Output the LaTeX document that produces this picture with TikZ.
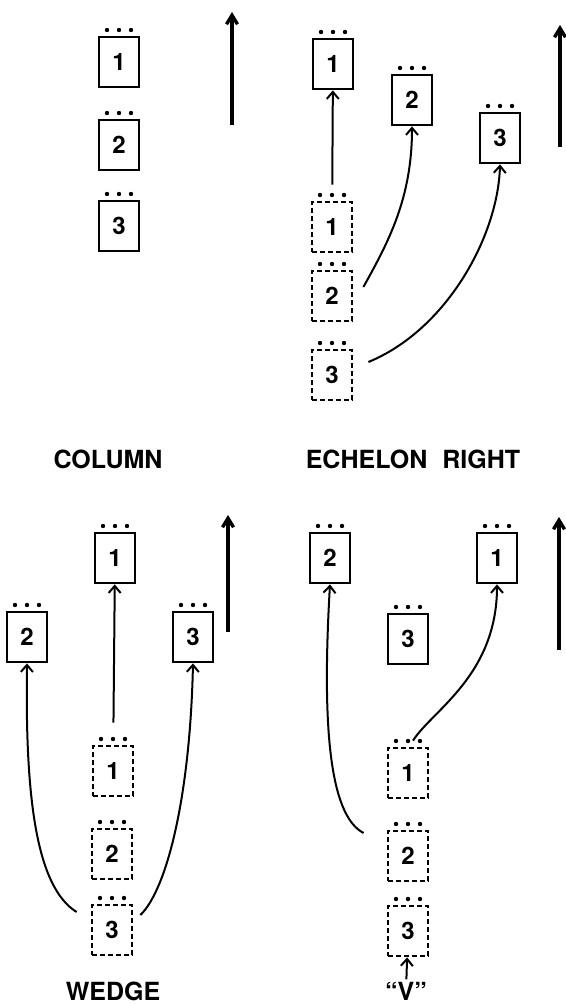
\documentclass[tikz,border=0pt]{standalone}
\usepackage{fontspec}
\setmainfont{TeX Gyre Heros}
\usetikzlibrary{arrows.meta}
\begin{document}
\begin{tikzpicture}[x=0.5pt, y=-0.5pt,
  unit/.style={draw, line width=1.4pt, minimum width=20pt, minimum height=25pt, inner sep=0pt, font=\fontsize{12}{14}\selectfont\bfseries},
  ghost/.style={unit, dash pattern={on 2.4pt off 1.6pt}},
  conn/.style={line width=1pt, -{Straight Barb[length=3.5pt, width=6pt]}},
  heading/.style={line width=1.7pt, -{Straight Barb[length=4.5pt, width=5.5pt]}},
  caption/.style={anchor=base, inner sep=1pt, font=\fontsize{12.5}{14}\selectfont\bfseries}]
  \useasboundingbox (0,0) rectangle (566,1005);

  % column
  \node[unit] (c1) at (119,62) {1};
  \node[unit] (c2) at (119,145) {2};
  \node[unit] (c3) at (119,226) {3};
  \coordinate (colA) at (232,125);
  \coordinate (colB) at (232,12);
  \draw[heading] (colA) -- (colB);
  \node[caption] (col) at (108,468) {COLUMN};

  % echelon right
  \node[unit] (e1) at (333,64) {1};
  \node[unit] (e2) at (412,100) {2};
  \node[unit] (e3) at (500,138) {3};
  \node[ghost] (f1) at (332,227) {1};
  \node[ghost] (f2) at (332,296) {2};
  \node[ghost] (f3) at (332,375) {3};
  \coordinate (echA) at (560,147);
  \coordinate (echB) at (560,25);
  \draw[heading] (echA) -- (echB);
  \draw[conn, shorten <=8pt] (f1) -- (e1);
  \draw[conn] ([shift={(10,-9)}]f2.east) .. controls +(25,-45) and +(0,72) .. (e2.south);
  \draw[conn] ([shift={(15,-13)}]f3.east) .. controls +(78,-32) and +(-2,72) .. (e3.south);
  \node[caption] (ech) at (413,468) {ECHELON\hspace{0.6em}RIGHT};

  % wedge
  \node[unit] (w1) at (115,558) {1};
  \node[unit] (w2) at (27,637) {2};
  \node[unit] (w3) at (193,637) {3};
  \node[ghost] (g1) at (113,771) {1};
  \node[ghost] (g2) at (112,854) {2};
  \node[ghost] (g3) at (112,930) {3};
  \coordinate (wedA) at (228,632);
  \coordinate (wedB) at (228,515);
  \draw[heading] (wedA) -- (wedB);
  \draw[conn, shorten <=11pt] (g1) -- (w1);
  \draw[conn] ([shift={(-14,-18)}]g3.west) .. controls +(-40,-25) and +(-2,136) .. (w2.south);
  \draw[conn] ([shift={(7,-15)}]g3.east) .. controls +(26,-25) and +(-3,135) .. (w3.south);
  \node[caption] (wed) at (113,1000) {WEDGE};

  % "V"
  \node[unit] (v2) at (330,558) {2};
  \node[unit] (v1) at (497,558) {1};
  \node[unit] (v3) at (408,639) {3};
  \node[ghost] (h1) at (408,773) {1};
  \node[ghost] (h2) at (408,856) {2};
  \node[ghost] (h3) at (408,931) {3};
  \coordinate (veeA) at (559,650);
  \coordinate (veeB) at (559,517);
  \draw[heading] (veeA) -- (veeB);
  \draw[conn] ([shift={(-23,-23)}]h2.west) .. controls +(-35,-18) and +(-8,137) .. (v2.south);
  \draw[conn] ([shift={(5,-6)}]h1.north) .. controls +(19,-30) and +(0,91) .. (v1.south);
  \node[caption] (vee) at (406,1000) {``V''};
  \draw[conn] (vee) -- (h3);

  % dots over every box
  \foreach \n in {c1,c2,c3,e1,e2,e3,f1,f2,f3,w1,w2,w3,g1,g2,g3,v1,v2,v3,h1,h2,h3}
    \foreach \dx in {-6,0,6}
      \fill ([xshift=\dx pt, yshift=2.8pt]\n.north) circle (1.1pt);
\end{tikzpicture}
\end{document}
